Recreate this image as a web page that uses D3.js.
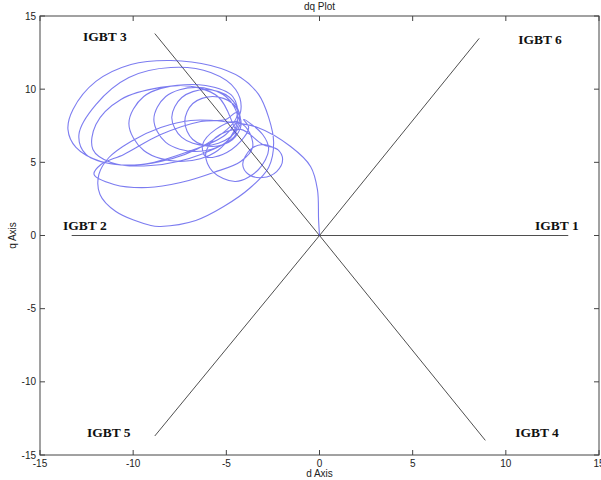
<!DOCTYPE html>
<head>
  <meta charset="utf-8">
  <script src="https://d3js.org/d3.v7.min.js"></script>
  <style>
    body { margin:0; background:#fff; }
    .tick-label, .axis-title { font-family: "Liberation Sans", Arial, sans-serif; font-size: 10px; fill: #222; }
    .igbt { font-family: "Liberation Serif", "Times New Roman", serif; font-size: 13.5px; font-weight: bold; fill: #111; }
    .frame { fill: none; stroke: #444; stroke-width: 1; }
    .tick { stroke: #444; stroke-width: 1; }
    .sector { fill: none; stroke: #222; stroke-width: 0.8; }
    .dq { fill: none; stroke: rgb(80,80,235); stroke-opacity: 0.75; stroke-width: 1.1; }
  </style>
</head>

<body>
  <script>
    var margin = {top: 16, right: 2, bottom: 25, left: 40};
    var width = 601 - margin.left - margin.right,
        height = 480 - margin.top - margin.bottom;

    // tick values, both axes
    var ticks = [-15, -10, -5, 0, 5, 10, 15];

    // sector boundary lines, [d, q] end points from the origin
    var sectorEnds = [[13.35, 0], [-13.3, 0], [8.57, 13.47], [-8.84, 13.8], [-8.84, -13.7], [8.9, -14.0]];

    var labels = ["IGBT 1", "IGBT 2", "IGBT 3", "IGBT 4", "IGBT 5", "IGBT 6"];
    var labelPos = [[11.57, 0.41], [-13.76, 0.41], [-12.69, 13.26], [10.5, -13.74], [-12.48, -13.74], [10.66, 13.06]];

    // current vector trajectory (d, q)
    var startLoop = [[0,0],[-0.05,1.09],[-0.11,3.14],[-0.48,4.72],[-1.55,6.08],[-3.32,7.38],[-5.14,7.79],
      [-6.91,7.86],[-8.52,7.38],[-10.12,6.43],[-11.3,5.33],[-11.84,4.17],[-11.78,2.8],[-10.93,1.64],
      [-9.05,0.68],[-8.52,0.62],[-6.64,1.03],[-5.14,1.98],[-3.7,3.28],[-2.73,4.65],[-2.46,6.36],
      [-2.73,8.07],[-3.27,9.64],[-4.23,10.8],[-5.84,11.62],[-7.98,11.96]];

    var outerLoops = [[-10.12,11.69],[-12.0,10.53],[-13.23,8.61],[-13.5,7.25],[-13.07,6.02],[-11.73,5.06],
      [-9.59,4.85],[-7.18,5.67],[-5.03,6.9],[-4.23,8.48],[-4.5,9.98],[-5.84,11.14],[-7.98,11.48],
      [-10.23,10.8],[-12.0,8.95],[-12.91,6.9],[-12.53,5.54],[-10.93,4.85],[-8.52,5.06],[-6.11,6.22],
      [-4.45,8.07],[-4.66,9.5],[-6.11,10.25],[-8.52,10.12],[-10.66,9.3],[-12.0,7.59],[-12.16,5.88],
      [-11.19,4.99],[-9.05,4.78],[-6.37,5.54],[-4.5,6.9]];

    var innerCircles = [[-4.66,7.66],[-5.46,9.5],[-7.45,10.25],[-9.43,9.5],[-10.23,7.66],[-9.43,5.81],
      [-7.45,5.06],[-5.46,5.81],[-4.39,7.93],[-5.03,9.5],[-6.64,10.12],[-8.25,9.5],[-8.89,7.93],
      [-8.25,6.36],[-6.64,5.74],[-5.03,6.36],[-4.28,8.07],[-4.82,9.43],[-6.11,9.98],[-7.39,9.43],
      [-7.93,8.07],[-7.39,6.7],[-6.11,6.15],[-4.82,6.7],[-4.23,7.79],[-4.66,9.02],[-5.73,9.5],
      [-6.8,9.02],[-7.23,7.79],[-6.8,6.56],[-5.73,6.08],[-4.66,6.56],[-4.2,7.6],[-4.45,8.4]];

    var lowerLoops = [[-5.03,7.93],[-6.37,7.79],[-8.52,6.9],[-10.5,5.54],[-11.73,4.85],[-12.1,4.17],
      [-11.03,3.49],[-9.21,3.28],[-7.45,3.62],[-5.68,4.31],[-4.23,5.06],[-3.59,6.02],[-3.86,7.25],
      [-4.5,7.79],[-5.57,7.25],[-6.27,6.22],[-6.11,5.4],[-5.2,5.54],[-4.23,6.43],[-3.8,7.38],[-4.07,7.93]];

    var smallLoops = [[-3.05,6.9],[-2.73,5.88],[-3.27,4.51],[-4.5,3.69],[-5.73,4.37],[-6.11,5.54],
      [-5.57,6.7],[-4.23,7.25],[-3.05,6.22],[-2.25,5.88],[-1.98,5.19],[-2.3,4.37],[-3.05,3.96],
      [-3.8,4.17],[-4.12,4.85],[-3.7,5.88],[-3.05,6.22],[-2.25,5.88]];

    var trajectory = startLoop.concat(outerLoops, innerCircles, lowerLoops, smallLoops);

    var svg = d3.select("body").append("svg")
        .attr("width", 601)
        .attr("height", 480)
      .append("g")
        .attr("transform", "translate(" + margin.left + "," + margin.top + ")");

    var x = d3.scaleLinear().domain([-15, 15]).range([0, width]);
    var y = d3.scaleLinear().domain([-15, 15]).range([height, 0]);

    svg.append("rect")
      .attr("class", "frame")
      .attr("x", 0).attr("y", 0)
      .attr("width", width).attr("height", height);

    // MATLAB style ticks: inward on all four sides
    var tl = 5;
    ticks.forEach(function(t) {
      svg.append("line").attr("class", "tick")
        .attr("x1", x(t)).attr("x2", x(t)).attr("y1", height).attr("y2", height - tl);
      svg.append("line").attr("class", "tick")
        .attr("x1", x(t)).attr("x2", x(t)).attr("y1", 0).attr("y2", tl);
      svg.append("line").attr("class", "tick")
        .attr("x1", 0).attr("x2", tl).attr("y1", y(t)).attr("y2", y(t));
      svg.append("line").attr("class", "tick")
        .attr("x1", width).attr("x2", width - tl).attr("y1", y(t)).attr("y2", y(t));
    });

    svg.selectAll(".xlab")
      .data(ticks)
    .enter().append("text")
      .attr("class", "tick-label")
      .attr("x", function(d) { return x(d); })
      .attr("y", height + 12)
      .attr("text-anchor", "middle")
      .text(function(d) { return d; });

    svg.selectAll(".ylab")
      .data(ticks)
    .enter().append("text")
      .attr("class", "tick-label")
      .attr("x", -4)
      .attr("y", function(d) { return y(d); })
      .attr("dy", "0.35em")
      .attr("text-anchor", "end")
      .text(function(d) { return d; });

    svg.selectAll(".sector")
      .data(sectorEnds)
    .enter().append("line")
      .attr("class", "sector")
      .attr("x1", x(0)).attr("y1", y(0))
      .attr("x2", function(d) { return x(d[0]); })
      .attr("y2", function(d) { return y(d[1]); });

    var line = d3.line()
      .x(function(d) { return x(d[0]); })
      .y(function(d) { return y(d[1]); })
      .curve(d3.curveCatmullRom.alpha(0.5));

    svg.append("path")
      .datum(trajectory)
      .attr("class", "dq")
      .attr("d", line);

    svg.selectAll(".igbt")
      .data(labels)
    .enter().append("text")
      .attr("class", "igbt")
      .attr("x", function(d, i) { return x(labelPos[i][0]); })
      .attr("y", function(d, i) { return y(labelPos[i][1]); })
      .text(function(d) { return d; });

    svg.append("text")
      .attr("class", "axis-title")
      .attr("x", width / 2).attr("y", -6)
      .attr("text-anchor", "middle")
      .text("dq Plot");

    svg.append("text")
      .attr("class", "axis-title")
      .attr("x", width / 2).attr("y", height + 22)
      .attr("text-anchor", "middle")
      .text("d Axis");

    svg.append("text")
      .attr("class", "axis-title")
      .attr("transform", "translate(-24," + (height / 2) + ") rotate(-90)")
      .attr("text-anchor", "middle")
      .text("q Axis");
  </script>
</body>
